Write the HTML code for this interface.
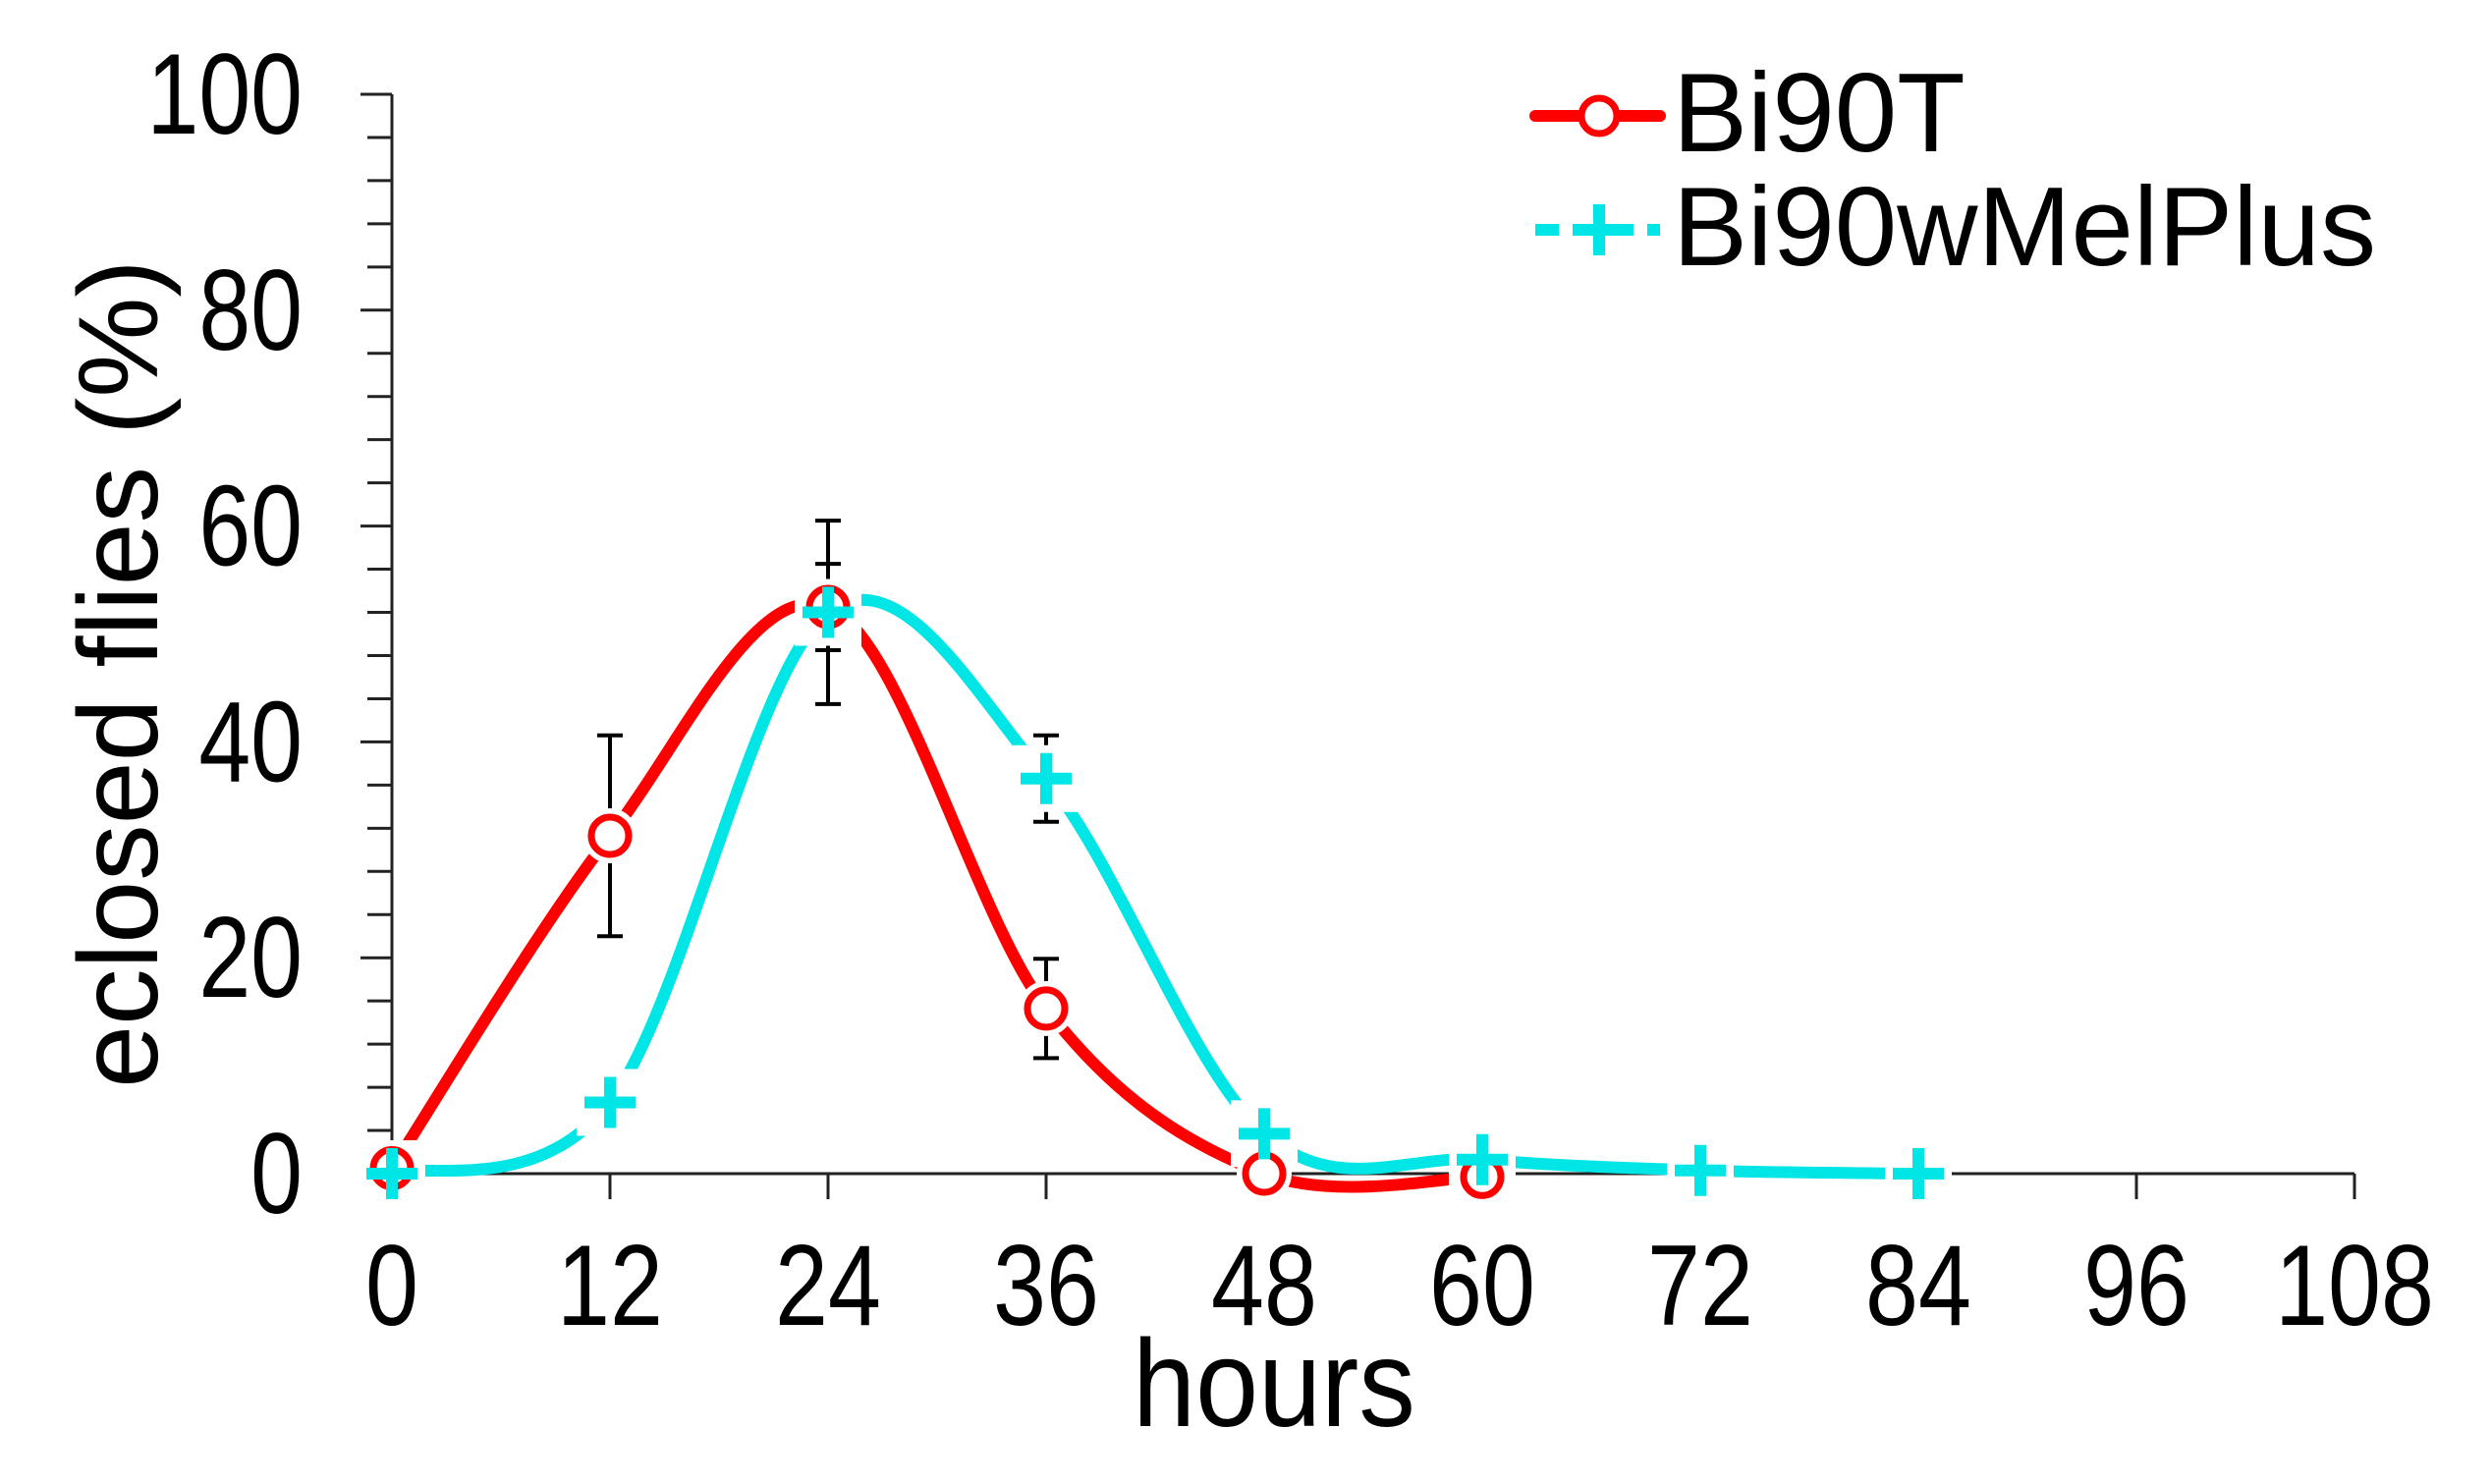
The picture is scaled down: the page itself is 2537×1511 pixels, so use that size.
<!DOCTYPE html>
<html><head><meta charset="utf-8"><style>
html,body{margin:0;padding:0;background:#fff;}
svg{display:block;font-family:"Liberation Sans",Arial,sans-serif;}
</style></head><body>
<svg id="chart" width="2537" height="1511" viewBox="0 0 2537 1511">
<g id="axes"></g>
<g id="series"></g>
<text transform="translate(1297,1452) scale(1,1.1)" font-size="115" text-anchor="middle" fill="#000">hours</text>
<text transform="translate(160,686) rotate(-90)" font-size="115" text-anchor="middle" fill="#000">eclosed flies (%)</text>
<g>
  <g>
    <line x1="1563" y1="118" x2="1690" y2="118" stroke="#ff0000" stroke-width="12" stroke-linecap="round"/>
    <circle cx="1628" cy="118" r="18" fill="#fff" stroke="#ff0000" stroke-width="7"/>
    <text x="1703" y="154" font-size="114" fill="#000">Bi90T</text>
  </g>
  <g>
    <line x1="1563" y1="234" x2="1690" y2="234" stroke="#00e5e5" stroke-width="12" stroke-dasharray="24 14"/>
    <line x1="1602" y1="234" x2="1654" y2="234" stroke="#00e5e5" stroke-width="12"/>
    <line x1="1628" y1="208" x2="1628" y2="260" stroke="#00e5e5" stroke-width="12"/>
    <text x="1703" y="270" font-size="114" fill="#000">Bi90wMelPlus</text>
  </g>
</g>
</svg>
<script>
const xTicks = [0,12,24,36,48,60,72,84,96,108];
const yTicks = [0,20,40,60,80,100];
const hoursRed = [0,12,24,36,48,60];
const valuesRed = [0.5,31.3,52.5,15.3,0,-0.3];
const errRed = [0,9.3,4,4.6,0,0];
const hoursCyan = [0,12,24,36,48,60,72,84];
const valuesCyan = [0,6.6,52,36.6,3.7,1.3,0.3,0];
const errCyan = [0,0,8.5,4,0,0,0,0];

const X0=399, X1=2397, Y0=1195, Y1=96;
const xs = v => X0 + (v-0)/(108-0)*(X1-X0);
const ys = v => Y0 - v/100*(Y0-Y1);
const NS='http://www.w3.org/2000/svg';
function mk(tag, attrs, parent){const e=document.createElementNS(NS,tag);for(const k in attrs)e.setAttribute(k,attrs[k]);parent.appendChild(e);return e;}
const axes=document.getElementById('axes'), ser=document.getElementById('series');

const yAxis=mk('line',{x1:X0,y1:Y1,x2:X0,y2:Y0,stroke:'#222','stroke-width':3},axes);


const xAxis=mk('line',{x1:X0,y1:Y0,x2:X1,y2:Y0,stroke:'#222','stroke-width':3},axes);


for(let v=0;v<=100;v+=4){
  const major=v%20===0;
  const t=mk('line',{x1:X0-(major?32:25),y1:ys(v),x2:X0,y2:ys(v),stroke:'#222','stroke-width':3},axes);
  
  
}
yTicks.forEach(v=>{
  const t=mk('text',{transform:`translate(308,${ys(v)+40}) scale(0.95,1.17)`,'font-size':100,'text-anchor':'end',fill:'#000'},axes);
  t.textContent=v;
  
  
});
xTicks.forEach(v=>{
  const t=mk('line',{x1:xs(v),y1:Y0,x2:xs(v),y2:Y0+26,stroke:'#222','stroke-width':3},axes);
  
  
  const l=mk('text',{transform:`translate(${xs(v)},1349) scale(0.97,1.17)`,'font-size':100,'text-anchor':'middle',fill:'#000'},axes);
  l.textContent=v;
  
  
});

function smoothPath(hs, vs){
  const p=hs.map((h,i)=>[xs(h),ys(vs[i])]);
  let d='M'+p[0][0]+','+p[0][1];
  for(let i=0;i<p.length-1;i++){
    const a=p[Math.max(i-1,0)], b=p[i], c=p[i+1], e=p[Math.min(i+2,p.length-1)];
    const c1=[b[0]+(c[0]-a[0])/6, b[1]+(c[1]-a[1])/6];
    const c2=[c[0]-(e[0]-b[0])/6, c[1]-(e[1]-b[1])/6];
    d+=` C${c1[0]},${c1[1]} ${c2[0]},${c2[1]} ${c[0]},${c[1]}`;
  }
  return d;
}
function errBars(hs, vs, es, name){
  hs.forEach((h,i)=>{ if(!es[i]) return;
    const g=mk('g',{stroke:'#000','stroke-width':4},ser);
    
    
    const x=xs(h);
    mk('line',{x1:x,y1:ys(vs[i]+es[i]),x2:x,y2:ys(vs[i]-es[i])},g);
    mk('line',{x1:x-13,y1:ys(vs[i]+es[i]),x2:x+13,y2:ys(vs[i]+es[i])},g);
    mk('line',{x1:x-13,y1:ys(vs[i]-es[i]),x2:x+13,y2:ys(vs[i]-es[i])},g);
  });
}
errBars(hoursRed,valuesRed,errRed,'error-bar-bi90t');
errBars(hoursCyan,valuesCyan,errCyan,'error-bar-bi90wmelplus');

const redLine=mk('path',{d:smoothPath(hoursRed,valuesRed),fill:'none',stroke:'#ff0000','stroke-width':12},ser);


const cyanLine=mk('path',{d:smoothPath(hoursCyan,valuesCyan),fill:'none',stroke:'#00e5e5','stroke-width':12},ser);



hoursRed.forEach((h,i)=>{
  const c=mk('circle',{cx:xs(h),cy:ys(valuesRed[i]),r:20,fill:'#fff',stroke:'#fff','stroke-width':16},ser);
  
  
});
hoursCyan.forEach((h,i)=>{
  const x=xs(h),y=ys(valuesCyan[i]);
  const r=mk('rect',{x:x-34,y:y-34,width:68,height:68,fill:'#fff'},ser);
  
  
});
hoursRed.forEach((h,i)=>{
  const c=mk('circle',{cx:xs(h),cy:ys(valuesRed[i]),r:19,fill:'#fff',stroke:'#ff0000','stroke-width':7},ser);
  
  
});
hoursCyan.forEach((h,i)=>{
  const x=xs(h),y=ys(valuesCyan[i]);
  const g=mk('g',{stroke:'#00e5e5','stroke-width':12},ser);
  
  
  mk('line',{x1:x-26,y1:y,x2:x+26,y2:y},g);
  mk('line',{x1:x,y1:y-26,x2:x,y2:y+26},g);
});
</script>
</body></html>
